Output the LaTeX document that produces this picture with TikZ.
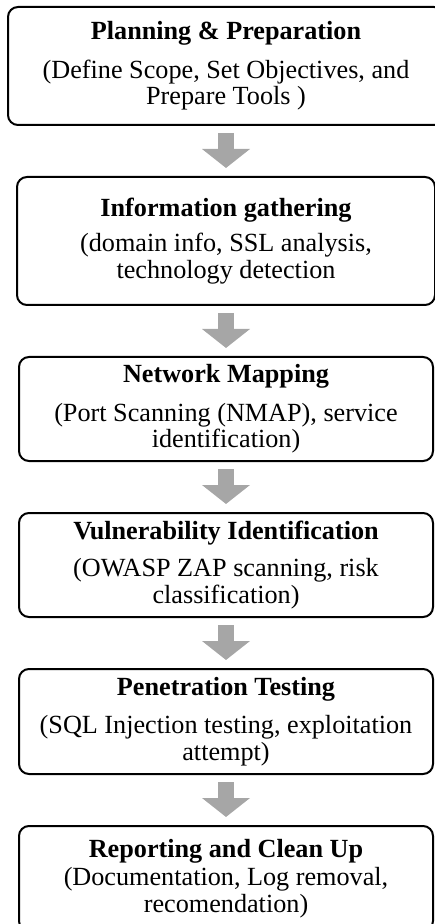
\documentclass[tikz,border=0pt]{standalone}
\usepackage{fontspec}
\setmainfont{Liberation Serif}
\usetikzlibrary{arrows.meta,positioning}

\begin{document}
\begin{tikzpicture}[x=0.5pt,y=0.5pt,font=\fontsize{13.1}{13.3}\selectfont]
\tikzstyle{stage}=[draw,line width=1pt,rounded corners=5pt,align=center,inner sep=2pt,minimum height=52pt,minimum width=207pt]
\tikzstyle{flow}=[line width=8pt,draw=black!35,-{Triangle[width=23.5pt,length=9.5pt]},shorten <=3.5pt,shorten >=4pt]
\useasboundingbox (0,0) rectangle (434,-924);
\node[stage,minimum width=218pt,minimum height=59pt] (plan) at (226,-66) {\textbf{Planning \& Preparation}\\[6pt] (Define Scope, Set Objectives, and\\ Prepare Tools )};
\node[stage,minimum width=209pt,minimum height=64pt,below=25pt of plan] (info) {\textbf{Information gathering}\\[4.5pt] (domain info, SSL analysis,\\ technology detection};
\node[stage,below=25pt of info] (nmap) {\textbf{Network Mapping}\\[6pt] (Port Scanning (NMAP), service\\ identification)};
\node[stage,below=25pt of nmap] (vuln) {\textbf{Vulnerability Identification}\\[5pt] (OWASP ZAP scanning, risk\\ classification)};
\node[stage,minimum height=52.5pt,below=25pt of vuln] (pent) {\textbf{Penetration Testing}\\[6pt] (SQL Injection testing, exploitation\\ attempt)};
\node[stage,minimum height=52.5pt,below=25pt of pent] (rep) {\textbf{Reporting and Clean Up}\\[1pt] (Documentation, Log removal,\\ recomendation)};
% block arrows between the stages
\draw[flow] (plan) -- (info);
\draw[flow] (info) -- (nmap);
\draw[flow] (nmap) -- (vuln);
\draw[flow] (vuln) -- (pent);
\draw[flow] (pent) -- (rep);
\end{tikzpicture}
\end{document}
